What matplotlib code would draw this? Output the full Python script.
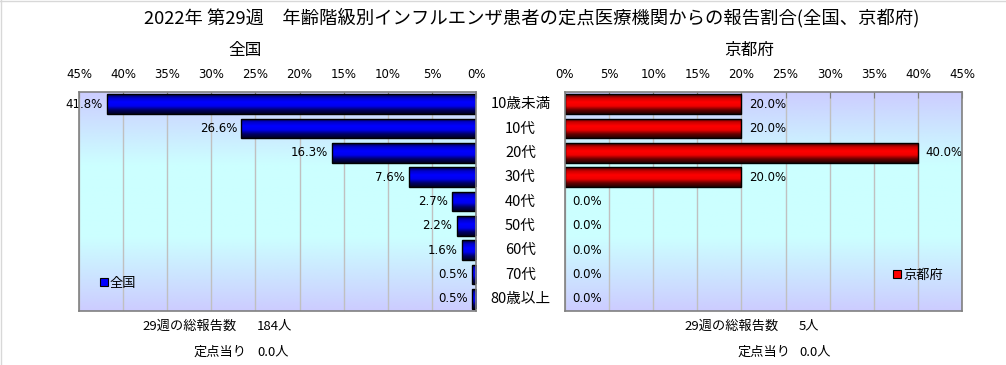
import matplotlib
matplotlib.use("Agg")
import matplotlib.pyplot as plt
import numpy as np
from matplotlib.colors import LinearSegmentedColormap
from matplotlib.transforms import blended_transform_factory
from matplotlib.ticker import FixedLocator
from matplotlib.patches import Patch

plt.rcParams['font.family'] = ['Noto Sans CJK JP', 'DejaVu Sans']

# ---- data ----
categories = ["10歳未満", "10代", "20代", "30代", "40代", "50代", "60代", "70代", "80歳以上"]
national = [41.8, 26.6, 16.3, 7.6, 2.7, 2.2, 1.6, 0.5, 0.5]
kyoto = [20.0, 20.0, 40.0, 20.0, 0.0, 0.0, 0.0, 0.0, 0.0]
xticks = [0, 5, 10, 15, 20, 25, 30, 35, 40, 45]
title = "2022年 第29週　年齢階級別インフルエンザ患者の定点医療機関からの報告割合(全国、京都府)"
left_name = "全国"
right_name = "京都府"
left_total = "184人"
right_total = "5人"
left_per = "0.0人"
right_per = "0.0人"
total_label = "29週の総報告数"
per_label = "定点当り"

W, H = 1006, 365
fig = plt.figure(figsize=(W / 100, H / 100), dpi=100)
fig.patch.set_facecolor("white")

def fx(px):
    return px / W

def fy(py):
    return 1 - py / H

ax_top, ax_bot = 92, 311
axL = fig.add_axes([fx(79), fy(ax_bot), fx(476) - fx(79), fy(ax_top) - fy(ax_bot)])
axR = fig.add_axes([fx(565), fy(ax_bot), fx(962) - fx(565), fy(ax_top) - fy(ax_bot)])

bg_cmap = LinearSegmentedColormap.from_list("bg", ["#ccccff", "#ccffff", "#ccffff", "#ccccff"])
blue_cmap = LinearSegmentedColormap.from_list("bl", ["#000033", "#0000cc", "#0000ff", "#0000ee", "#000066", "#000020"])
red_cmap = LinearSegmentedColormap.from_list("rd", ["#330000", "#cc0000", "#ff0000", "#ee0000", "#660000", "#200000"])

grad = np.linspace(0, 1, 256).reshape(-1, 1)
n = len(categories)
ypos = np.arange(n)

def setup(ax, values, cmap, base, invert):
    xlim = (45, 0) if invert else (0, 45)
    ylim = (n - 0.5, -0.5)
    ax.imshow(grad, extent=[xlim[0], xlim[1], ylim[0], ylim[1]], cmap=bg_cmap,
              aspect="auto", zorder=0, origin="upper")
    bars = ax.barh(ypos, values, height=0.8, color=base, edgecolor="black",
                   linewidth=1, zorder=2)
    for b, v in zip(bars, values):
        if v <= 0:
            b.set_visible(False)
            continue
        x0, y0 = b.get_xy()
        w, h = b.get_width(), b.get_height()
        im = ax.imshow(grad, extent=[x0, x0 + w, y0 + h, y0], cmap=cmap,
                       aspect="auto", zorder=2.5, origin="upper")
        im.set_clip_path(b)
        b.set_facecolor("none")
        b.set_zorder(3)
    ax.set_xlim(*xlim)
    ax.set_ylim(*ylim)
    ax.set_yticks([])
    ax.xaxis.set_major_locator(FixedLocator(xticks))
    ax.set_xticklabels([f"{t}%" for t in xticks])
    ax.xaxis.tick_top()
    ax.tick_params(axis="x", direction="in", length=4, color="#808080",
                   labelsize=8.5, pad=8)
    for lab in ax.get_xticklabels():
        lab.set_family(["DejaVu Sans"])
    ax.grid(axis="x", color="#c0c0c0", linewidth=1)
    ax.set_axisbelow(True)
    for s in ax.spines.values():
        s.set_color("#808080")
        s.set_linewidth(1.2)
        s.set_zorder(6)
    for yv, v in zip(ypos, values):
        if invert:
            ax.annotate(f"{v:.1f}%", (v, yv), xytext=(-3, 0), textcoords="offset points",
                        ha="right", va="center", fontsize=8.5, family=["DejaVu Sans"], zorder=4)
        else:
            ax.annotate(f"{v:.1f}%", (v, yv), xytext=(5.5, 0), textcoords="offset points",
                        ha="left", va="center", fontsize=8.5, family=["DejaVu Sans"], zorder=4)
    return bars

barsL = setup(axL, national, blue_cmap, "#0000ff", True)
barsR = setup(axR, kyoto, red_cmap, "#ff0000", False)

# legends
def legend(ax, color, label, x, y):
    h = Patch(facecolor=color, edgecolor="black", linewidth=0.8)
    lg = ax.legend([h], [label], loc="center left", bbox_to_anchor=(x, y),
                   frameon=False, handlelength=0.6, handleheight=0.6,
                   handletextpad=0.15, borderpad=0, borderaxespad=0, fontsize=9.5)
    lg.set_zorder(5)

legend(axL, "#0000ff", left_name, (100 - 79) / 397, (311 - 283) / 219)
legend(axR, "#ff0000", right_name, (893 - 565) / 397, (311 - 275) / 219)

# category labels in the middle
tr = blended_transform_factory(fig.transFigure, axL.transData)
for yv, c in zip(ypos, categories):
    axL.text(fx(520.5), yv, c, transform=tr, ha="center", va="center",
             fontsize=10.5, clip_on=False)

# titles
fig.text(fx(532), fy(18), title, ha="center", va="center", fontsize=13.2)
fig.text(fx(245), fy(50), left_name, ha="center", va="center", fontsize=12)
fig.text(fx(749), fy(50), right_name, ha="center", va="center", fontsize=12)

# bottom texts
fs = 9.5
fig.text(fx(237), fy(326), total_label, ha="right", va="center", fontsize=fs)
fig.text(fx(257), fy(326), left_total, ha="left", va="center", fontsize=fs)
fig.text(fx(246), fy(352), per_label, ha="right", va="center", fontsize=fs)
fig.text(fx(257), fy(352), left_per, ha="left", va="center", fontsize=fs)
fig.text(fx(779), fy(326), total_label, ha="right", va="center", fontsize=fs)
fig.text(fx(799), fy(326), right_total, ha="left", va="center", fontsize=fs)
fig.text(fx(790), fy(352), per_label, ha="right", va="center", fontsize=fs)
fig.text(fx(799), fy(352), right_per, ha="left", va="center", fontsize=fs)

# faint outer border (top and left)
fig.add_artist(plt.Line2D([0, fx(1005)], [fy(0.5), fy(0.5)], color="#d8d8d8", lw=1, transform=fig.transFigure))
fig.add_artist(plt.Line2D([fx(0.5), fx(0.5)], [0, 1], color="#d8d8d8", lw=1, transform=fig.transFigure))

fig.savefig("out.png", dpi=100)
